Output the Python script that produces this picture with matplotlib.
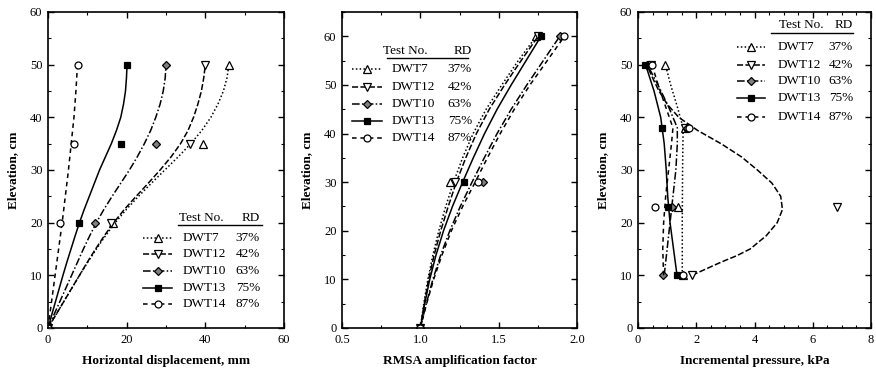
import matplotlib
matplotlib.use("Agg")
import matplotlib.pyplot as plt
from matplotlib.lines import Line2D
from matplotlib.ticker import MultipleLocator

plt.rcParams['font.family'] = ['Liberation Serif', 'DejaVu Serif']
plt.rcParams['font.size'] = 9

tests = ["DWT7", "DWT12", "DWT10", "DWT13", "DWT14"]
rd = ["37%", "42%", "63%", "75%", "87%"]

# ---- Horizontal displacement (mm) ----
disp_elev_pts = [0, 20, 35, 50]
disp_pts = {
    "DWT7":  [0, 16.5, 39.5, 46.0],
    "DWT12": [0, 16.0, 36.0, 40.0],
    "DWT10": [0, 12.0, 27.5, 30.0],
    "DWT13": [0, 8.0, 18.5, 20.0],
    "DWT14": [0, 3.0, 6.5, 7.5],
}
disp_elev_fit = [0, 2.5, 5, 7.5, 10, 12.5, 15, 17.5, 20, 22.5, 25, 27.5,
                 30, 32.5, 35, 37.5, 40, 42.5, 45, 47.5, 50]
disp_fit = {
    "DWT7":  [0, 2.0, 4.0, 6.0, 8.0, 10.1, 12.3, 14.6, 17.1, 19.9, 23.0,
              26.3, 29.7, 33.1, 36.3, 39.1, 41.4, 43.2, 44.6, 45.5, 46.0],
    "DWT12": [0, 2.0, 4.0, 6.0, 8.0, 10.0, 12.1, 14.3, 16.7, 19.4, 22.4,
              25.5, 28.5, 31.3, 33.7, 35.6, 37.0, 38.1, 39.0, 39.6, 40.0],
    "DWT10": [0, 1.5, 3.0, 4.5, 6.0, 7.5, 9.0, 10.6, 12.3, 14.2, 16.3,
              18.5, 20.7, 22.7, 24.5, 26.1, 27.4, 28.5, 29.3, 29.8, 30.0],
    "DWT13": [0, 0.95, 1.9, 2.85, 3.8, 4.8, 5.85, 6.9, 8.0, 9.2, 10.5,
              11.8, 13.1, 14.6, 16.1, 17.4, 18.5, 19.2, 19.7, 19.95, 20.1],
    "DWT14": [0, 0.45, 0.9, 1.35, 1.8, 2.25, 2.7, 3.15, 3.6, 4.0, 4.4,
              4.8, 5.2, 5.55, 5.9, 6.25, 6.6, 6.85, 7.1, 7.3, 7.5],
}

# ---- RMSA amplification factor ----
rmsa_elev_pts = [0, 30, 60]
rmsa_pts = {
    "DWT7":  [1.0, 1.19, 1.74],
    "DWT12": [1.0, 1.22, 1.75],
    "DWT10": [1.0, 1.40, 1.89],
    "DWT13": [1.0, 1.28, 1.77],
    "DWT14": [1.0, 1.37, 1.92],
}
rmsa_elev_fit = [0, 5, 10, 15, 20, 25, 30, 35, 40, 45, 50, 55, 60]
rmsa_fit = {
    "DWT7":  [1.0, 1.022, 1.048, 1.080, 1.118, 1.162, 1.212, 1.270, 1.337,
              1.420, 1.520, 1.625, 1.740],
    "DWT12": [1.0, 1.025, 1.053, 1.088, 1.130, 1.178, 1.230, 1.290, 1.358,
              1.440, 1.538, 1.643, 1.752],
    "DWT10": [1.0, 1.038, 1.080, 1.130, 1.188, 1.255, 1.330, 1.408, 1.490,
              1.580, 1.680, 1.785, 1.890],
    "DWT13": [1.0, 1.028, 1.060, 1.100, 1.148, 1.205, 1.270, 1.338, 1.410,
              1.490, 1.580, 1.675, 1.770],
    "DWT14": [1.0, 1.040, 1.085, 1.138, 1.198, 1.270, 1.350, 1.428, 1.510,
              1.600, 1.700, 1.810, 1.920],
}

# ---- Incremental pressure (kPa) ----
pres_elev_pts = [10, 23, 38, 50]
pres_pts = {
    "DWT7":  [1.55, 1.37, 1.62, 0.93],
    "DWT12": [1.85, 6.83, 1.60, 0.43],
    "DWT10": [0.86, 1.17, 1.67, 0.32],
    "DWT13": [1.34, 1.03, 0.84, 0.24],
    "DWT14": [1.55, 0.58, 1.76, 0.48],
}
pres_fit_elev = {
    "DWT7":  [10, 20, 30, 38, 42, 46, 50],
    "DWT12": [10, 11.25, 12.5, 13.75, 15, 17.5, 20, 22.5, 25, 27.5, 30,
              32.5, 35, 37.5, 40, 42.5, 45, 47.5, 50],
    "DWT10": [10, 15, 20, 25, 30, 35, 38, 42, 46, 50],
    "DWT13": [10, 15, 20, 25, 30, 35, 40, 45, 50],
    "DWT14": [10, 15, 20, 25, 30, 35, 38, 42, 46, 50],
}
pres_fit = {
    "DWT7":  [1.52, 1.52, 1.53, 1.55, 1.35, 1.13, 0.94],
    "DWT12": [1.85, 2.35, 2.85, 3.40, 3.85, 4.40, 4.78, 4.96, 4.90, 4.60,
              4.10, 3.55, 2.85, 2.05, 1.40, 1.00, 0.72, 0.50, 0.30],
    "DWT10": [0.90, 1.00, 1.10, 1.20, 1.30, 1.35, 1.35, 1.05, 0.70, 0.32],
    "DWT13": [1.34, 1.22, 1.10, 1.02, 0.97, 0.90, 0.78, 0.55, 0.26],
    "DWT14": [0.88, 0.85, 0.88, 0.95, 1.05, 1.15, 1.20, 0.95, 0.70, 0.48],
}

styles = {
    "DWT7":  dict(ls=(0, (1, 1.5)), marker="^", mfc="white"),
    "DWT12": dict(ls=(0, (4, 1.5)), marker="v", mfc="white"),
    "DWT10": dict(ls=(0, (5, 1.5, 1, 1.5)), marker="D", mfc="#808080"),
    "DWT13": dict(ls="-", marker="s", mfc="black"),
    "DWT14": dict(ls=(0, (3, 2.5)), marker="o", mfc="white"),
}
msize = {"^": 5.5, "v": 5.5, "D": 4.5, "s": 5, "o": 5}
LW = 1.1
FS = 9.5


def style_axes(ax, xlim, ylim, xmaj, xmin, xlabel):
    ax.set_xlim(*xlim)
    ax.set_ylim(*ylim)
    ax.xaxis.set_major_locator(MultipleLocator(xmaj))
    ax.xaxis.set_minor_locator(MultipleLocator(xmin))
    ax.yaxis.set_major_locator(MultipleLocator(10))
    ax.yaxis.set_minor_locator(MultipleLocator(5))
    ax.tick_params(which="both", direction="in", top=True, right=True,
                   labelsize=9, pad=4)
    ax.tick_params(which="major", length=4, width=1)
    ax.tick_params(which="minor", length=2, width=0.8)
    for s in ax.spines.values():
        s.set_linewidth(1.2)
    ax.set_xlabel(xlabel, fontweight="bold", fontsize=FS, labelpad=7)
    ax.set_ylabel("Elevation, cm", fontweight="bold", fontsize=FS, labelpad=8)


def draw_key(ax, hx, hy, uy, ux0, ux1, lx0, lx1, nx, px, ry):
    tr = ax.transAxes
    ax.text(hx, hy, "Test No.", transform=tr, ha="left", va="center", fontsize=FS)
    ax.text(px, hy, "RD", transform=tr, ha="right", va="center", fontsize=FS)
    ax.add_line(Line2D([ux0, ux1], [uy, uy], transform=tr, color="black", lw=1.0))
    for t, r, y in zip(tests, rd, ry):
        st = styles[t]
        ax.add_line(Line2D([lx0, lx1], [y, y], transform=tr, color="black",
                           lw=LW, ls=st["ls"]))
        ax.add_line(Line2D([(lx0 + lx1) / 2], [y], transform=tr, ls="none",
                           marker=st["marker"], mfc=st["mfc"], mec="black",
                           ms=msize[st["marker"]], mew=0.9))
        ax.text(nx, y, t, transform=tr, ha="left", va="center", fontsize=FS)
        ax.text(px, y, r, transform=tr, ha="right", va="center", fontsize=FS)


def draw_series(ax, fit_x, fit_y, pt_x, pt_y, t):
    st = styles[t]
    ax.plot(fit_x, fit_y, color="black", lw=LW, ls=st["ls"])
    ax.plot(pt_x, pt_y, ls="none", marker=st["marker"], mfc=st["mfc"],
            mec="black", ms=msize[st["marker"]], mew=0.9)


fig = plt.figure(figsize=(8.76, 3.72), dpi=100)
ax1 = fig.add_axes([48 / 876, 44 / 372, 236 / 876, 316 / 372])
ax2 = fig.add_axes([342 / 876, 44 / 372, 235 / 876, 316 / 372])
ax3 = fig.add_axes([638 / 876, 44 / 372, 233 / 876, 316 / 372])

for t in tests:
    draw_series(ax1, disp_fit[t], disp_elev_fit, disp_pts[t], disp_elev_pts, t)
    draw_series(ax2, rmsa_fit[t], rmsa_elev_fit, rmsa_pts[t], rmsa_elev_pts, t)
    draw_series(ax3, pres_fit[t], pres_fit_elev[t], pres_pts[t], pres_elev_pts, t)

style_axes(ax1, (0, 60), (0, 60), 20, 10, "Horizontal displacement, mm")
style_axes(ax2, (0.5, 2.0), (0, 65), 0.5, 0.25, "RMSA amplification factor")
style_axes(ax3, (0, 8), (0, 60), 2, 0.5, "Incremental pressure, kPa")
ax2.xaxis.set_major_formatter(plt.FormatStrFormatter("%.1f"))

draw_key(ax1, 0.555, 0.348, 0.326, 0.551, 0.907, 0.403, 0.525, 0.572, 0.898,
         [0.285, 0.233, 0.180, 0.128, 0.076])
draw_key(ax2, 0.174, 0.877, 0.854, 0.191, 0.536, 0.043, 0.170, 0.213, 0.553,
         [0.820, 0.763, 0.709, 0.655, 0.601])
draw_key(ax3, 0.605, 0.959, 0.934, 0.571, 0.923, 0.425, 0.545, 0.601, 0.923,
         [0.889, 0.832, 0.782, 0.728, 0.668])

fig.savefig("out.png", dpi=100)
